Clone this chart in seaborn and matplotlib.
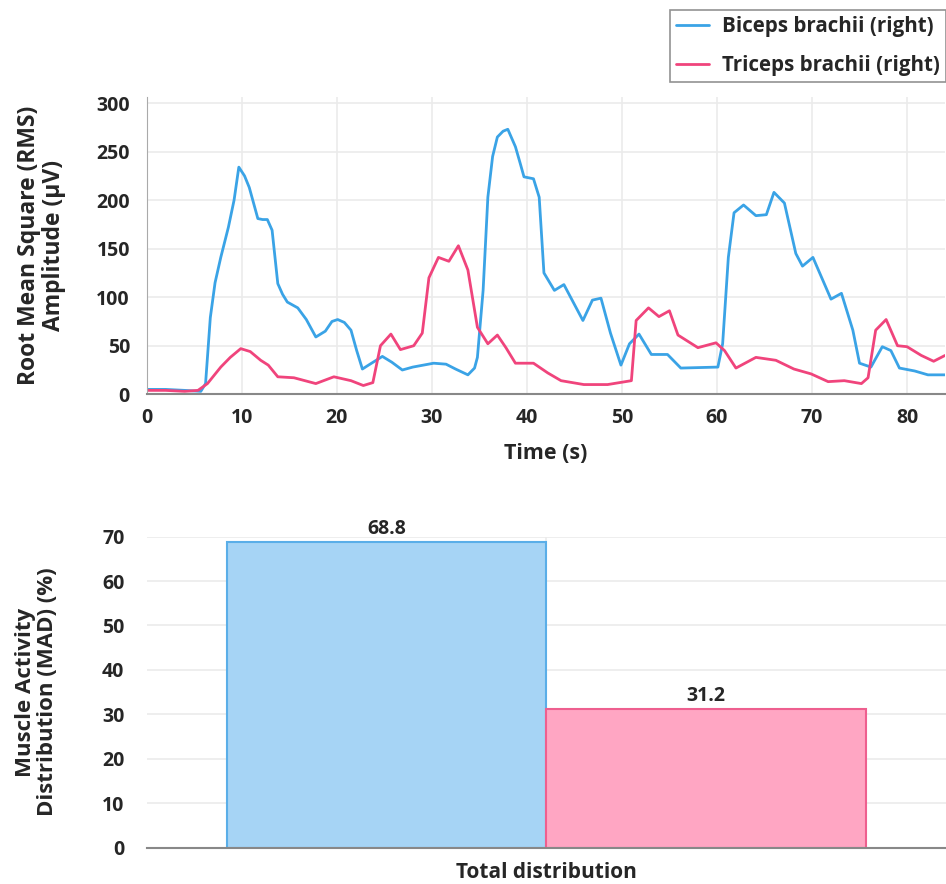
import pandas as pd
import numpy as np
import matplotlib
matplotlib.use('Agg')
import matplotlib.pyplot as plt
import seaborn as sns

# RMS 曲线数据
biceps_t = [0, 2, 4, 5.7, 6.2, 6.7, 7.2, 7.8, 8.6, 9.2, 9.7, 10.3, 10.8, 11.7, 12.2, 12.7, 13.2, 13.8,
            14.3, 14.8, 15.9, 16.8, 17.8, 18.8, 19.5, 20.1, 20.8, 21.5, 22.1, 22.7, 23.5, 24.8, 25.8, 26.9,
            28.0, 30.2, 31.5, 32.5, 33.8, 34.5, 34.8, 35.4, 35.9, 36.4, 36.9, 37.5, 38.0, 38.8, 39.3, 39.7,
            40.7, 41.3, 41.8, 42.9, 43.9, 45.9, 46.9, 47.8, 48.8, 49.9, 50.8, 51.8, 53.1, 54.8,
            56.2, 60.1, 60.6, 61.2, 61.8, 62.8, 64.1, 65.2, 66.0, 67.1, 68.3, 69.0, 70.1, 72.0,
            73.1, 74.3, 75.0, 76.2, 77.4, 78.3, 79.2, 80.8, 82.2, 84]
biceps_v = [5, 5, 4, 3, 11, 79, 115, 141, 172, 200, 234, 225, 213, 181, 180, 180, 169, 114,
            103, 95, 89, 77, 59, 65, 75, 77, 74, 66, 45, 26, 31, 39, 33, 25,
            28, 32, 31, 26, 20, 27, 38, 107, 203, 245, 265, 271, 273, 255, 238, 224,
            222, 203, 125, 107, 113, 76, 97, 99, 63, 30, 52, 62, 41, 41,
            27, 28, 52, 141, 187, 195, 184, 185, 208, 197, 145, 132, 141, 98,
            104, 66, 32, 28, 49, 45, 27, 24, 20, 20]

triceps_t = [0, 2, 4, 5.4, 6.4, 7.8, 8.8, 9.9, 10.9, 12.0, 12.8, 13.8, 15.5, 17.8, 19.7, 21.5,
             22.8, 23.8, 24.6, 25.7, 26.7, 28.1, 29.0, 29.7, 30.7, 31.8, 32.8, 33.8, 34.8, 35.9,
             36.9, 37.8, 38.8, 40.7, 42.2, 43.6, 46.0, 48.5, 51.0, 51.5, 52.8, 53.9, 55.0, 55.9,
             58.0, 59.9, 60.8, 62.0, 64.1, 66.2, 68.1, 69.9, 71.7, 73.4, 75.2, 75.9, 76.7, 77.8,
             79.0, 80.0, 81.5, 82.8, 84]
triceps_v = [4, 4, 3, 4, 11, 28, 38, 47, 44, 35, 30, 18, 17, 11, 18, 14,
             9, 12, 50, 62, 46, 50, 63, 120, 141, 137, 153, 128, 69, 52,
             61, 48, 32, 32, 22, 14, 10, 10, 14, 76, 89, 80, 86, 61,
             48, 53, 45, 27, 38, 35, 26, 21, 13, 14, 11, 17, 66, 77,
             50, 49, 40, 34, 40]

muscles = ['Biceps brachii (right)', 'Triceps brachii (right)']
mad_values = [68.8, 31.2]
line_colors = ['#3aa3e6', '#f0447c']
bar_fill = ['#a6d4f5', '#ffa6c3']
bar_edge = ['#5aaee8', '#ee5f8f']

df_rms = pd.concat([
    pd.DataFrame({'time': biceps_t, 'rms': biceps_v, 'muscle': muscles[0]}),
    pd.DataFrame({'time': triceps_t, 'rms': triceps_v, 'muscle': muscles[1]}),
])
df_mad = pd.DataFrame({'group': 'Total distribution', 'muscle': muscles, 'mad': mad_values})

sns.set_style('whitegrid')
plt.rcParams['font.family'] = ['Open Sans', 'DejaVu Sans']
plt.rcParams['font.weight'] = 'bold'

fig = plt.figure(figsize=(9.46, 8.84), dpi=100)
ax1 = fig.add_axes([0.155, 0.554, 0.844, 0.336])
ax2 = fig.add_axes([0.155, 0.041, 0.845, 0.352])

# 折线图
sns.lineplot(data=df_rms, x='time', y='rms', hue='muscle', palette=line_colors,
             linewidth=2, ax=ax1, legend=False)
for ln in ax1.lines:
    ln.set_solid_joinstyle('round')
ax1.set_xlim(0, 84)
ax1.set_ylim(0, 306)
ax1.set_xticks(range(0, 81, 10))
ax1.set_yticks(range(0, 301, 50))
ax1.set_xlabel('Time (s)', fontsize=15.5, fontweight='bold', labelpad=11)
ax1.set_ylabel('Root Mean Square (RMS)\nAmplitude (µV)', fontsize=16.5, fontweight='bold',
               labelpad=22, linespacing=1.05)

handles = [plt.Line2D([], [], color=c, linewidth=2) for c in line_colors]
leg = fig.legend(handles, muscles, loc='upper right', bbox_to_anchor=(1.004, 0.993),
                 fontsize=14.8, frameon=True, fancybox=False, handlelength=1.6,
                 labelspacing=0.85, borderpad=0.3, handletextpad=0.6, borderaxespad=0.2)
leg.get_frame().set_edgecolor('#777777')
leg.get_frame().set_linewidth(1.2)

# 条形图
sns.barplot(data=df_mad, x='group', y='mad', hue='muscle', palette=bar_fill,
            width=0.8, saturation=1, ax=ax2, legend=False)
for patch, ec in zip(ax2.patches, bar_edge):
    patch.set_edgecolor(ec)
    patch.set_linewidth(1.5)
for cont in ax2.containers:
    ax2.bar_label(cont, fmt='%.1f', fontsize=14, fontweight='bold', padding=2)
ax2.set_xlim(-0.5, 0.5)
ax2.set_ylim(0, 70)
ax2.set_yticks(range(0, 71, 10))
ax2.set_xlabel('')
ax2.set_ylabel('Muscle Activity\nDistribution (MAD) (%)', fontsize=16, fontweight='bold',
               labelpad=32, linespacing=1.05)
ax2.xaxis.grid(False)

for ax in (ax1, ax2):
    ax.tick_params(axis='both', labelsize=14, length=0)
    ax.tick_params(axis='x', pad=10)
    for lbl in ax.get_xticklabels() + ax.get_yticklabels():
        lbl.set_fontweight('bold')
    ax.grid(color='#ebebeb', linewidth=1.2)
    for s in ('top', 'right'):
        ax.spines[s].set_visible(False)
    ax.spines['left'].set_color('#aaaaaa')
    ax.spines['bottom'].set_color('#888888')
    ax.spines['bottom'].set_linewidth(1.5)
    ax.set_axisbelow(True)
ax1.tick_params(axis='y', pad=12)
ax2.spines['left'].set_visible(False)
ax2.tick_params(axis='y', pad=16)
for lbl in ax2.get_xticklabels():
    lbl.set_fontsize(15)

fig.savefig('out.png', dpi=100)
